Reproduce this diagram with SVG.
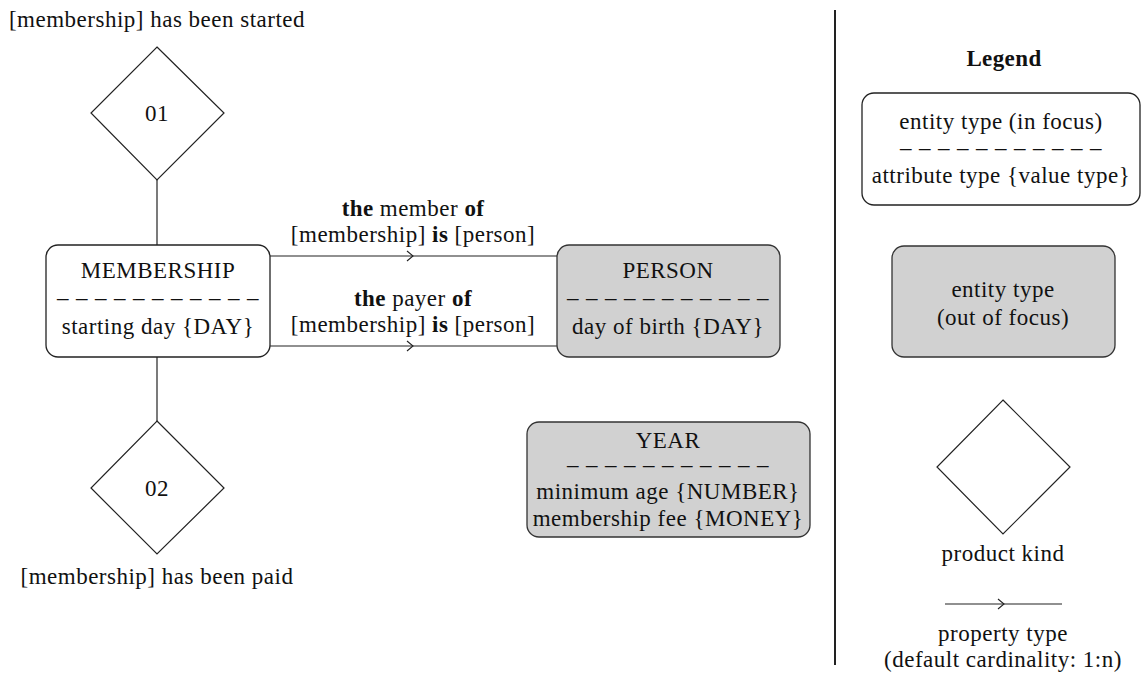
<svg xmlns="http://www.w3.org/2000/svg" width="1141" height="674" viewBox="0 0 1141 674">
<style>
text{font-family:"Liberation Serif","Times New Roman",serif;font-size:23px;fill:#111;text-anchor:middle;letter-spacing:0.5px}
.b{font-weight:bold;letter-spacing:0.4px}
.box{fill:#ffffff;stroke:#222;stroke-width:1.3}
.grey{fill:#d1d1d1;stroke:#333;stroke-width:1.3}
.dia{fill:#ffffff;stroke:#222;stroke-width:1.2}
.ln{fill:none;stroke:#222;stroke-width:1.2}
</style>
<defs>
<marker id="chev" markerWidth="12" markerHeight="12" refX="7" refY="6" orient="auto" markerUnits="userSpaceOnUse">
<path d="M1,1 L7,6 L1,11" fill="none" stroke="#222" stroke-width="1.1"/>
</marker>
</defs>
<g id="connectors">
<line class="ln" x1="157" y1="180" x2="157" y2="245"/>
<line class="ln" x1="157" y1="357" x2="157" y2="421"/>
<polyline class="ln" points="270,256 413,256 557,256" marker-mid="url(#chev)"/>
<polyline class="ln" points="270,346 413,346 557,346" marker-mid="url(#chev)"/>
<text x="413" y="216"><tspan class="b">the</tspan> member <tspan class="b">of</tspan></text>
<text x="413" y="242">[membership] <tspan class="b">is</tspan> [person]</text>
<text x="413" y="306"><tspan class="b">the</tspan> payer <tspan class="b">of</tspan></text>
<text x="413" y="332">[membership] <tspan class="b">is</tspan> [person]</text>
</g>
<g id="fact01">
<text x="157" y="27">[membership] has been started</text>
<polygon class="dia" points="157,47 224,113 157,180 91,113"/>
<text x="157" y="121">01</text>
</g>
<g id="fact02">
<polygon class="dia" points="157,421 224,488 157,554 91,488"/>
<text x="157" y="496">02</text>
<text x="157" y="584">[membership] has been paid</text>
</g>
<g id="membership">
<rect class="box" x="46" y="245" width="224" height="112" rx="12"/>
<text x="158" y="278">MEMBERSHIP</text>
<text x="158" y="305" textLength="202" lengthAdjust="spacing">– – – – – – – – – – –</text>
<text x="158" y="334">starting day {DAY}</text>
</g>
<g id="person">
<rect class="grey" x="557" y="245" width="223" height="112" rx="12"/>
<text x="668" y="278">PERSON</text>
<text x="668" y="305" textLength="202" lengthAdjust="spacing">– – – – – – – – – – –</text>
<text x="668" y="334">day of birth {DAY}</text>
</g>
<g id="year">
<rect class="grey" x="527" y="422" width="283" height="115" rx="12"/>
<text x="668" y="448">YEAR</text>
<text x="668" y="472" textLength="202" lengthAdjust="spacing">– – – – – – – – – – –</text>
<text x="668" y="499">minimum age {NUMBER}</text>
<text x="668" y="526">membership fee {MONEY}</text>
</g>
<g id="legend">
<line class="ln" x1="835" y1="10" x2="835" y2="665" style="stroke-width:2"/>
<text class="b" x="1004" y="66">Legend</text>
<rect class="box" x="862" y="93" width="278" height="112" rx="12"/>
<text x="1001" y="129">entity type (in focus)</text>
<text x="1001" y="155" textLength="202" lengthAdjust="spacing">– – – – – – – – – – –</text>
<text x="1001" y="183">attribute type {value type}</text>
<rect class="grey" x="892" y="246" width="223" height="111" rx="12"/>
<text x="1003" y="297">entity type</text>
<text x="1003" y="325">(out of focus)</text>
<polygon class="dia" points="1003,400 1070,467 1003,534 937,467"/>
<text x="1003" y="561">product kind</text>
<polyline class="ln" points="945,604 1004,604 1062,604" marker-mid="url(#chev)"/>
<text x="1003" y="641">property type</text>
<text x="1003" y="667">(default cardinality: 1:n)</text>
</g>
</svg>
